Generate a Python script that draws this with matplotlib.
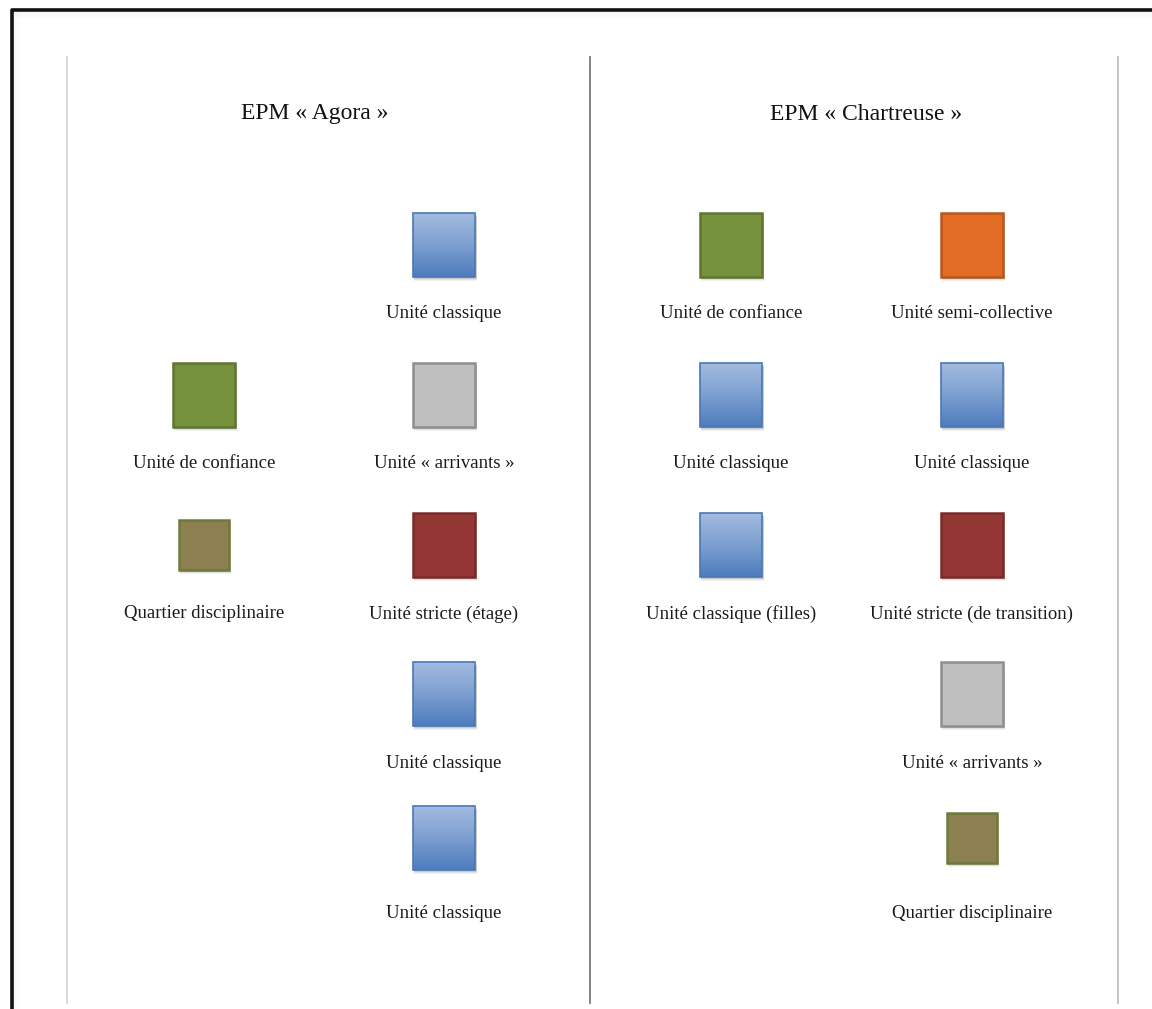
import matplotlib
matplotlib.use("Agg")
import matplotlib.pyplot as plt
import numpy as np
from matplotlib.patches import Rectangle
from matplotlib.colors import LinearSegmentedColormap

# ---- data ----
panel_titles = ["EPM « Agora »", "EPM « Chartreuse »"]
# each panel: two columns, listing (label, unit type) from top to bottom; None = empty slot
agora_left = [None,
              ("Unité de confiance", "confiance"),
              ("Quartier disciplinaire", "disciplinaire")]
agora_right = [("Unité classique", "classique"),
               ("Unité « arrivants »", "arrivants"),
               ("Unité stricte (étage)", "stricte"),
               ("Unité classique", "classique"),
               ("Unité classique", "classique")]
chartreuse_left = [("Unité de confiance", "confiance"),
                   ("Unité classique", "classique"),
                   ("Unité classique (filles)", "classique")]
chartreuse_right = [("Unité semi-collective", "semi"),
                    ("Unité classique", "classique"),
                    ("Unité stricte (de transition)", "stricte"),
                    ("Unité « arrivants »", "arrivants"),
                    ("Quartier disciplinaire", "disciplinaire")]
panels = [[agora_left, agora_right], [chartreuse_left, chartreuse_right]]

# ---- styles ----
face = {"confiance": "#76923c", "semi": "#e36c25", "stricte": "#943634",
        "arrivants": "#bfbfbf", "disciplinaire": "#8c8050"}
edge = {"confiance": "#5f7530", "semi": "#b8561d", "stricte": "#7a2b29",
        "arrivants": "#8f8f8f", "disciplinaire": "#6e7a3c", "classique": "#4a78b5"}
blue_cmap = LinearSegmentedColormap.from_list("b", ["#a3bbdf", "#7c9fd0", "#4d7cbe"])

W, H = 1152, 1009
fig = plt.figure(figsize=(W / 100, H / 100), dpi=100)
ax = fig.add_axes([0, 0, 1, 1])
ax.set_xlim(0, W)
ax.set_ylim(H, 0)
ax.axis("off")

font = "Liberation Serif"

# frame (with faint inner shadow)
for i in range(8):
    a = 0.022 * (8 - i) / 8
    ax.plot([13, W], [11.5 + i, 11.5 + i], color="#000000", alpha=a, lw=1,
            solid_capstyle="butt")
    ax.plot([13.5 + i, 13.5 + i], [11, H], color="#000000", alpha=a * 0.7, lw=1,
            solid_capstyle="butt")
ax.plot([11.5, 11.5, W], [H, 9.5, 9.5], color="#111111", lw=2.6, solid_capstyle="butt")

# separators
ax.plot([67, 67], [57, 1003], color="#dadada", lw=1.4)
ax.plot([590, 590], [57, 1003], color="#7a7a7a", lw=1.3)
ax.plot([1118, 1118], [57, 1003], color="#c4c4c4", lw=1.4)

title_x = [315, 866]
col_x = [[204, 444], [731, 972]]
row_sq = [245, 395, 545, 694, 838]
row_lab = [314, 464, 614, 764, 913]


def draw_square(cx, cy, kind):
    s = 50 if kind == "disciplinaire" else 62
    h = s if kind == "disciplinaire" else 64
    x0, y0 = cx - s / 2, cy - h / 2
    # shadow
    for k, a in [(4, 0.05), (3, 0.07), (2, 0.09)]:
        ax.add_patch(Rectangle((x0 + 1, y0 + k), s + 1, h, facecolor="black", alpha=a,
                               edgecolor="none", zorder=2))
    if kind == "classique":
        grad = np.linspace(0, 1, 100).reshape(-1, 1)
        ax.imshow(grad, cmap=blue_cmap, extent=[x0, x0 + s, y0 + h, y0], aspect="auto",
                  zorder=3, interpolation="bilinear")
        ax.add_patch(Rectangle((x0, y0), s, h, facecolor="none", edgecolor=edge[kind],
                               lw=1.2, zorder=4))
    else:
        ax.add_patch(Rectangle((x0, y0), s, h, facecolor=face[kind], edgecolor=edge[kind],
                               lw=1.8, zorder=3))


for p, (title, cols) in enumerate(zip(panel_titles, panels)):
    ax.text(title_x[p], 114, title, ha="center", va="center", fontsize=17,
            family=font, color="#111111")
    for c, col in enumerate(cols):
        for r, item in enumerate(col):
            if item is None:
                continue
            label, kind = item
            cx = col_x[p][c]
            draw_square(cx, row_sq[r], kind)
            ax.text(cx, row_lab[r], label, ha="center", va="center", fontsize=13.5,
                    family=font, color="#1a1a1a")

ax.set_xlim(0, W)
ax.set_ylim(H, 0)
fig.savefig("out.png", dpi=100, facecolor="white")
